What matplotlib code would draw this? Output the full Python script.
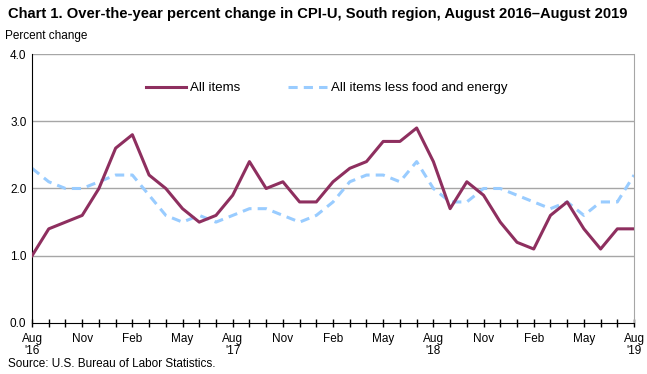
import matplotlib
matplotlib.use("Agg")
import matplotlib.pyplot as plt
import numpy as np

plt.rcParams['font.family'] = ['Liberation Sans', 'DejaVu Sans']

# Aug 2016 .. Aug 2019, monthly
all_items = [1.0, 1.4, 1.5, 1.6, 2.0, 2.6, 2.8, 2.2, 2.0, 1.7, 1.5, 1.6,
             1.9, 2.4, 2.0, 2.1, 1.8, 1.8, 2.1, 2.3, 2.4, 2.7, 2.7, 2.9,
             2.4, 1.7, 2.1, 1.9, 1.5, 1.2, 1.1, 1.6, 1.8, 1.4, 1.1, 1.4,
             1.4]
core = [2.3, 2.1, 2.0, 2.0, 2.1, 2.2, 2.2, 1.9, 1.6, 1.5, 1.6, 1.5,
        1.6, 1.7, 1.7, 1.6, 1.5, 1.6, 1.8, 2.1, 2.2, 2.2, 2.1, 2.4,
        2.0, 1.8, 1.8, 2.0, 2.0, 1.9, 1.8, 1.7, 1.8, 1.6, 1.8, 1.8,
        2.2]
tick_labels = ["Aug\n'16", "Nov", "Feb", "May", "Aug\n'17", "Nov", "Feb", "May",
               "Aug\n'18", "Nov", "Feb", "May", "Aug\n'19"]

x = np.arange(len(all_items))

fig = plt.figure(figsize=(6.47, 3.74), dpi=100)
ax = fig.add_axes([0.0495, 0.1364, 0.9305, 0.7192])

for v in [1, 2, 3, 4]:
    ax.axhline(v, color='#a6a6a6', lw=1, zorder=1)

ax.plot(x, all_items, color='#8e2f5f', lw=2.2, label='All items', zorder=3)
ax.plot(x, core, color='#99ccff', lw=2.2, ls=(0, (3, 2)), label='All items less food and energy', zorder=2)

ax.set_xlim(0, 36)
ax.set_ylim(0, 4)
ax.set_yticks([0, 1, 2, 3, 4])
ax.set_yticklabels(['0.0', '1.0', '2.0', '3.0', '4.0'], fontsize=8.5)
ax.set_xticks(x[::3])
ax.set_xticklabels(tick_labels, fontsize=8.5, linespacing=1.0)
ax.set_xticks(x, minor=True)
ax.tick_params(axis='x', which='both', direction='inout', length=6, width=1, pad=4)
ax.tick_params(axis='y', length=0, pad=4)

ax.spines['top'].set_visible(False)
ax.spines['right'].set_color('#a6a6a6')
ax.spines['left'].set_color('black')
ax.spines['bottom'].set_color('black')

ax.legend(loc='upper left', bbox_to_anchor=(0.17, 0.94), ncol=2, frameon=False,
          fontsize=9.5, handlelength=3.0, handletextpad=0.3, columnspacing=3.6)

fig.text(0.012, 0.962, 'Chart 1. Over-the-year percent change in CPI-U, South region, August 2016\u2013August 2019',
         fontsize=10.6, fontweight='bold', va='center')
fig.text(0.008, 0.903, 'Percent change', fontsize=8.5, va='center')
fig.text(0.012, 0.027, 'Source: U.S. Bureau of Labor Statistics.', fontsize=8.5, va='center')

fig.savefig('out.png', dpi=100)
